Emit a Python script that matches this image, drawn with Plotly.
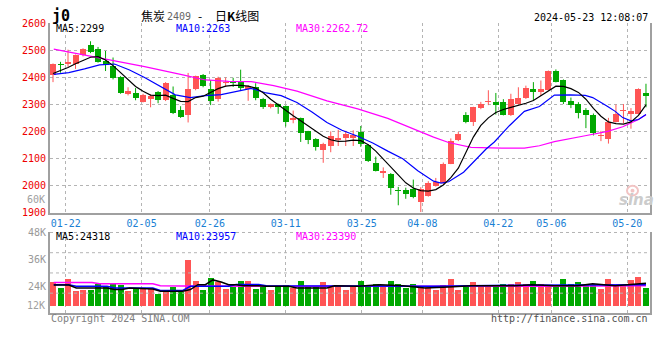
import plotly.graph_objects as go

# ---------------- data ----------------
dates = ['01-18', '01-19', '01-22', '01-23', '01-24', '01-25', '01-26', '01-29', '01-30', '01-31',
         '02-01', '02-02', '02-05', '02-06', '02-07', '02-08', '02-19', '02-20', '02-21',
         '02-22', '02-23', '02-26', '02-27', '02-28', '02-29', '03-01', '03-04', '03-05',
         '03-06', '03-07', '03-08', '03-11', '03-12', '03-13', '03-14', '03-15', '03-18',
         '03-19', '03-20', '03-21', '03-22', '03-25', '03-26', '03-27', '03-28', '03-29',
         '04-01', '04-02', '04-03', '04-08', '04-09', '04-10', '04-11', '04-12', '04-15',
         '04-16', '04-17', '04-18', '04-19', '04-22', '04-23', '04-24', '04-25', '04-26',
         '04-29', '04-30', '05-06', '05-07', '05-08', '05-09', '05-10', '05-13', '05-14',
         '05-15', '05-16', '05-17', '05-20', '05-21', '05-22', '05-23']

opens = [2409, 2450, 2450, 2450, 2482, 2521, 2504, 2462, 2444, 2403, 2340, 2343, 2311, 2322, 2346,
         2316, 2337, 2280, 2263, 2358, 2411, 2358, 2320, 2380, 2383, 2385, 2358, 2365, 2322, 2290,
         2302, 2294, 2243, 2249, 2201, 2174, 2133, 2147, 2170, 2177, 2175, 2198, 2150, 2086, 2048,
         2044, 1982, 1984, 1987, 1940, 1964, 1999, 2009, 2082, 2169, 2260, 2234, 2287, 2309, 2308,
         2311, 2261, 2302, 2323, 2358, 2347, 2355, 2424, 2391, 2314, 2302, 2280, 2263, 2184, 2174,
         2237, 2276, 2266, 2266, 2343]
highs = [2452, 2458, 2503, 2485, 2508, 2534, 2513, 2498, 2474, 2405, 2364, 2361, 2340, 2338, 2350,
         2383, 2367, 2294, 2417, 2407, 2413, 2391, 2403, 2400, 2399, 2429, 2372, 2379, 2325, 2304,
         2304, 2297, 2278, 2252, 2203, 2176, 2159, 2201, 2207, 2203, 2205, 2221, 2153, 2108, 2068,
         2047, 1996, 1993, 2023, 1995, 2017, 2029, 2086, 2175, 2199, 2272, 2292, 2310, 2353, 2343,
         2320, 2340, 2364, 2370, 2383, 2389, 2426, 2430, 2393, 2326, 2309, 2287, 2267, 2203, 2251,
         2300, 2302, 2287, 2360, 2377]
lows = [2383, 2418, 2440, 2432, 2478, 2490, 2455, 2424, 2393, 2340, 2334, 2316, 2308, 2290, 2305,
        2313, 2265, 2251, 2234, 2353, 2364, 2298, 2311, 2365, 2365, 2350, 2314, 2316, 2284, 2286,
        2266, 2219, 2231, 2162, 2154, 2130, 2085, 2124, 2147, 2147, 2147, 2144, 2088, 2053, 2029,
        1967, 1928, 1952, 1954, 1903, 1960, 1997, 2005, 2080, 2165, 2231, 2221, 2283, 2298, 2263,
        2260, 2258, 2300, 2321, 2314, 2332, 2352, 2382, 2302, 2287, 2249, 2213, 2186, 2165, 2156,
        2234, 2231, 2211, 2264, 2290]
closes = [2450, 2446, 2457, 2482, 2507, 2496, 2459, 2445, 2397, 2344, 2352, 2326, 2337, 2332, 2316,
          2379, 2269, 2255, 2358, 2405, 2367, 2314, 2397, 2383, 2381, 2361, 2367, 2326, 2290, 2302,
          2292, 2237, 2249, 2195, 2169, 2142, 2154, 2183, 2174, 2191, 2187, 2154, 2092, 2056, 2050,
          1992, 1980, 1970, 1960, 1988, 2009, 2015, 2082, 2165, 2191, 2234, 2290, 2304, 2312, 2298,
          2263, 2320, 2326, 2361, 2347, 2358, 2423, 2385, 2311, 2298, 2270, 2260, 2195, 2188, 2237,
          2266, 2279, 2275, 2358, 2330]
volumes = [25800, 23200, 27100, 21900, 22300, 22300, 25000, 24300, 25000, 24500, 21900, 22900, 22900,
           22900, 20700, 22600, 23700, 21600, 35800, 26200, 22300, 27600, 25800, 22900, 23700, 26200,
           26200, 22900, 23700, 22300, 23700, 24500, 23300, 26200, 23700, 23700, 25800, 24300, 23700,
           22600, 24000, 26200, 24800, 25200, 24300, 26600, 25200, 23200, 25200, 23200, 24300, 22300,
           24800, 27500, 22600, 24800, 25800, 24300, 24300, 24800, 25200, 25200, 25800, 25200, 26200,
           25200, 23700, 23700, 27400, 25200, 25800, 24800, 24800, 22900, 27400, 24800, 24800, 26800,
           28300, 23300]

# moving averages as drawn in the picture (positions in day-index units)
ma5 = [2415, 2426, 2437, 2451, 2464, 2475, 2477, 2465, 2444, 2418, 2391, 2367, 2349, 2335, 2333,
       2335, 2323, 2312, 2311, 2326, 2331, 2344, 2359, 2368, 2371, 2371, 2368, 2361, 2344, 2320,
       2299, 2279, 2259, 2240, 2220, 2201, 2183, 2170, 2164, 2165, 2169, 2167, 2152, 2128, 2099,
       2068, 2038, 2011, 1992, 1982, 1980, 1986, 2003, 2030, 2065, 2120, 2180, 2223, 2251, 2271,
       2282, 2290, 2297, 2305, 2315, 2332, 2352, 2368, 2367, 2359, 2345, 2320, 2286, 2257, 2236,
       2230, 2228, 2236, 2260, 2299]
ma10_at = [0.1, 2.1, 4.2, 6.2, 8.2, 10.2, 12.2, 14.3, 16.3, 18.3, 20.3, 22.4, 24.4, 26.4, 28.4,
           30.4, 32.5, 34.5, 36.5, 38.5, 40.6, 42.6, 44.6, 46.6, 48.6, 50.7, 51.7, 52.7, 54.7,
           56.7, 57.7, 58.8, 60.8, 62.8, 64.8, 66.8, 68.9, 70.9, 71.9, 73.9, 74.9, 75.9, 77.0,
           78.0, 79.0]
ma10 = [2412, 2418, 2432, 2447, 2450, 2428, 2400, 2367, 2336, 2326, 2333, 2337, 2348, 2360, 2343,
        2333, 2308, 2273, 2234, 2205, 2183, 2158, 2128, 2100, 2056, 2017, 2010, 2015, 2050, 2105,
        2136, 2162, 2222, 2275, 2293, 2335, 2336, 2334, 2326, 2293, 2275, 2252, 2240, 2245, 2263]
ma30_at = [0.1, 6.2, 12.2, 17.3, 20.3, 23.4, 26.4, 29.4, 32.5, 36.5, 40.6, 44.6, 48.6, 50.7, 52.7,
           55.7, 59.8, 62.8, 64.8, 66.8, 70.9, 73.9, 75.9, 78.0, 79.0]
ma30 = [2505, 2473, 2440, 2410, 2391, 2386, 2385, 2370, 2350, 2314, 2284, 2249, 2203, 2180, 2160,
        2142, 2139, 2139, 2148, 2163, 2185, 2201, 2218, 2245, 2262.72]

vma5_at = [0.1, 2.1, 3.1, 7.2, 8.2, 9.2, 10.2, 13.3, 14.3, 17.3, 18.3, 19.3, 20.3, 21.3, 22.4, 23.4,
           24.4, 25.4, 27.4, 28.4, 31.4, 32.5, 36.5, 37.5, 40.6, 43.6, 46.6, 49.6, 52.7, 55.7,
           58.8, 61.8, 63.8, 66.8, 69.9, 71.9, 74.9, 76.9, 79.0]
vma5 = [24600, 24600, 23310, 23310, 22620, 22620, 23310, 22880, 21900, 21900, 22600, 24780, 24780,
        26900, 26000, 24780, 24780, 24340, 24340, 24040, 24040, 23310, 23310, 24300, 24040, 24780,
        24300, 23310, 23800, 24340, 24340, 24340, 24780, 24340, 24340, 25200, 24340, 24780, 25460]
vma10_at = [0.1, 2.1, 3.1, 7.2, 8.2, 13.3, 14.3, 17.3, 18.3, 23.4, 24.4, 27.4, 28.4, 31.4, 32.5,
            40.6, 50.7, 60.8, 70.9, 79.0]
vma10 = [24780, 24780, 24040, 24040, 23310, 23310, 22190, 22190, 24040, 24040, 24900, 24900, 24340,
         24340, 24040, 24200, 24040, 24500, 24500, 24780]
vma30_at = [0.1, 5.2, 6.2, 13.3, 14.3, 17.3, 30.4, 50.7, 65.8, 79.0]
vma30 = [25760, 25760, 25200, 25200, 24340, 24200, 24040, 23900, 24100, 24340]

tick_labels = ['01-22', '02-05', '02-26', '03-11', '03-25', '04-08', '04-22', '05-06', '05-20']
price_ticks = [1900, 2000, 2100, 2200, 2300, 2400, 2500, 2600]
vol_ticks = [48000, 36000, 24000]
vol_tick_text = ['48K', '36K', '24K']

# ---------------- styling ----------------
W, H = 660, 360
MONO = 'DejaVu Sans Mono'
CJK = 'Noto Sans CJK SC'
RED = '#ff5555'
GREEN = '#00a800'
GRID = '#b4b4b4'
FRAME = '#a0a0a0'
VOL_BASE = 15100
GRID_SHIFT, GRID_STRETCH = -0.33, 0.0111   # date grid lines sit slightly off the candles
X_RANGE = [-0.4, 79.47]


def px(v):
    return v / W


def py(v):
    return 1 - v / H


xs = list(range(len(dates)))
up = [c >= o for o, c in zip(opens, closes)]

fig = go.Figure()

for flag, color in ((True, RED), (False, GREEN)):
    ids = [i for i in xs if up[i] == flag]
    wx, wy = [], []
    for i in ids:
        wx += [i, i, None]
        wy += [lows[i], highs[i], None]
    fig.add_trace(go.Scatter(x=wx, y=wy, mode='lines', line=dict(color=color, width=1),
                             xaxis='x', yaxis='y', hoverinfo='skip', showlegend=False))
    fig.add_trace(go.Bar(x=ids, base=[min(opens[i], closes[i]) for i in ids],
                         y=[max(abs(closes[i] - opens[i]), 5) for i in ids],
                         width=0.8, marker=dict(color=color, line=dict(width=0)),
                         xaxis='x', yaxis='y', showlegend=False))
    fig.add_trace(go.Bar(x=ids, base=VOL_BASE, y=[volumes[i] - VOL_BASE for i in ids],
                         width=0.8, marker=dict(color=color, line=dict(width=0)),
                         xaxis='x2', yaxis='y2', showlegend=False))

for xv, yv, color in ((ma30_at, ma30, '#ff00ff'), (ma10_at, ma10, '#0000ff'),
                      (xs, ma5, '#000000')):
    fig.add_trace(go.Scatter(x=xv, y=yv, mode='lines', line=dict(color=color, width=1.2),
                             xaxis='x', yaxis='y', hoverinfo='skip', showlegend=False))

for xv, yv, color in ((vma30_at, vma30, '#ff00ff'), (vma10_at, vma10, '#0000ff'),
                      (vma5_at, vma5, '#000000')):
    fig.add_trace(go.Scatter(x=xv, y=yv, mode='lines', line=dict(color=color, width=1.5),
                             xaxis='x2', yaxis='y2', hoverinfo='skip', showlegend=False))

tickvals = []
for t in tick_labels:
    k = dates.index(t)
    tickvals.append(k + GRID_SHIFT + GRID_STRETCH * k)
xdom = [px(50), px(649.5)]

common_x = dict(domain=xdom, range=X_RANGE, tickmode='array', tickvals=tickvals,
                showgrid=True, gridcolor=GRID, griddash='dot', gridwidth=1, zeroline=False,
                showline=True, linecolor=FRAME, linewidth=2, ticks='', fixedrange=True)

fig.update_layout(
    width=W, height=H, margin=dict(l=0, r=0, t=0, b=0),
    paper_bgcolor='white', plot_bgcolor='white', barmode='overlay', bargap=0,
    showlegend=False, hovermode=False,
    xaxis=dict(**common_x, anchor='y', ticktext=tick_labels,
               tickfont=dict(family=MONO, size=10, color='#1a7fd4')),
    yaxis=dict(domain=[py(214), py(18)], range=[1900, 2600], tickmode='array',
               tickvals=price_ticks, ticktext=[str(v) for v in price_ticks],
               tickfont=dict(family=MONO, size=10, color='#ee0000'),
               showgrid=True, gridcolor=GRID, griddash='dot', gridwidth=1, zeroline=False,
               showline=True, mirror=True, linecolor=FRAME, linewidth=2, ticks='',
               fixedrange=True),
    xaxis2=dict(**common_x, anchor='y2', matches='x', showticklabels=False),
    yaxis2=dict(domain=[py(318), py(234.3)], range=[12000, 48000], tickmode='array',
                tickvals=vol_ticks, ticktext=vol_tick_text,
                tickfont=dict(family=MONO, size=10, color='#999999'),
                showgrid=False, zeroline=False, showline=True, mirror=True,
                linecolor=FRAME, linewidth=2, ticks='', fixedrange=True),
)

for frac in (0.25, 0.5, 0.75, 1.0):
    fig.add_shape(type='line', xref='x2 domain', yref='y2 domain', x0=0, x1=1, y0=frac, y1=frac,
                  line=dict(color=GRID, width=1, dash='dot'))

# faint sina "eye" logo of the watermark
fig.add_shape(type='circle', xref='paper', yref='paper', x0=px(627), x1=px(638),
              y0=py(196), y1=py(186), line=dict(color='#f2c4c4', width=2))
fig.add_shape(type='circle', xref='paper', yref='paper', x0=px(630.5), x1=px(634.5),
              y0=py(193), y1=py(189), fillcolor='#f2c4c4', line=dict(width=0))


def note(text, x, y, anchor='left', size=10, color='#000000', family=MONO):
    fig.add_annotation(text=text, x=px(x), y=py(y), xref='paper', yref='paper',
                       xanchor=anchor, yanchor='middle', showarrow=False,
                       font=dict(family=family, size=size, color=color))


note('<b>j0</b>', 50, 10.5, size=15)
note('焦炭', 139, 10, size=12, family=CJK)
note('2409', 165, 10.5, size=10, color='#666666')
note('-', 196, 10, size=12, family=CJK)
note('日<b>K</b>线图', 213, 10, size=12, family=CJK)
note('2024-05-23 12:08:07', 649.5, 11.5, anchor='right')

note('MA5:2299', 54, 23.5)
note('MA10:2263', 174, 23.5, color='#0000ff')
note('MA30:2262.72', 294, 23.5, color='#ff00ff')

note('MA5:24318', 54, 238)
note('MA10:23957', 174, 238, color='#0000ff')
note('MA30:23390', 294, 238, color='#ff00ff')

note('60K', 47, 200, anchor='right', color='#a0a0a0')
note('12K', 47, 310, anchor='right', color='#a0a0a0')

note('Copyright 2024 SINA.COM', 49, 323.5, color='#808080')
note('http://finance.sina.com.cn', 649.5, 323.5, anchor='right', color='#505050')

note('<b><i>sina</i></b>', 636, 201, anchor='center', size=15, color='#cccccc',
     family='DejaVu Sans')

fig.write_html('out.html', config={'displayModeBar': False, 'staticPlot': True},
               post_script="document.body.style.margin='0px';document.body.style.padding='0px';")
